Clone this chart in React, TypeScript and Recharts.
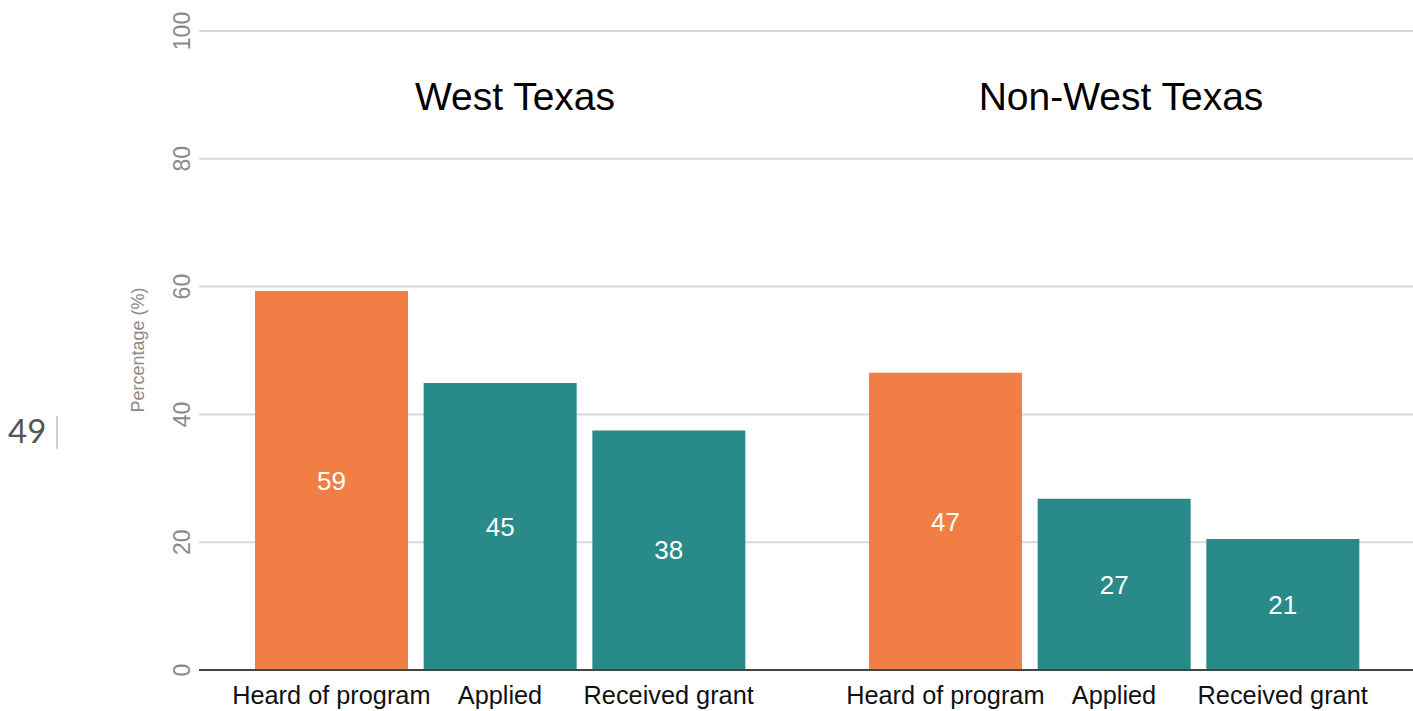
import React from "react";
import { BarChart, Bar, XAxis, YAxis, CartesianGrid, Cell, LabelList } from "recharts";

const groupTitles = ["West Texas", "Non-West Texas"];
const categories = ["Heard of program", "Applied", "Received grant"];
const westValues = [59.3, 44.9, 37.5];
const nonWestValues = [46.5, 26.8, 20.5];
const yTicks = [0, 20, 40, 60, 80, 100];
const barColors = ["#F07E45", "#288B8A", "#288B8A"];
const yAxisTitle = "Percentage (%)";
const pageNumber = "49";

const westData = categories.map((c, i) => ({ category: c, value: westValues[i] }));
const nonWestData = categories.map((c, i) => ({ category: c, value: nonWestValues[i] }));

const FONT = "'Liberation Sans', Arial, sans-serif";

const YTick = (props: any) => {
  const { y, payload } = props;
  const x = 190;
  return (
    <text
      x={x}
      y={y}
      transform={`rotate(-90 ${x} ${y})`}
      textAnchor="middle"
      fill="#8a8a8a"
      fontSize={23}
      fontFamily={FONT}
    >
      {payload.value}
    </text>
  );
};

const XTick = (props: any) => {
  const { x, payload } = props;
  return (
    <text x={x} y={704} textAnchor="middle" fill="#111" fontSize={25.3} fontFamily={FONT}>
      {payload.value}
    </text>
  );
};

const YTitle = (props: any) => {
  const x = 144;
  const y = 350;
  return (
    <text
      x={x}
      y={y}
      transform={`rotate(-90 ${x} ${y})`}
      textAnchor="middle"
      fill="#8a8a8a"
      fontSize={18}
      fontFamily={FONT}
    >
      {yAxisTitle}
    </text>
  );
};

const renderBars = () => (
  <Bar dataKey="value" isAnimationActive={false} barSize={153}>
    {categories.map((c, i) => (
      <Cell key={c} fill={barColors[i]} />
    ))}
    <LabelList
      dataKey="value"
      position="center"
      fill="#ffffff"
      fontSize={26}
      fontFamily={FONT}
      formatter={(v: any) => Math.round(Number(v))}
    />
  </Bar>
);

const titleStyle: React.CSSProperties = {
  position: "absolute",
  top: 96,
  transform: "translate(-50%, -50%)",
  fontSize: 39,
  lineHeight: 1,
  color: "#000",
  whiteSpace: "nowrap",
};

export default function App() {
  return (
    <div
      style={{
        position: "absolute",
        left: 0,
        top: 0,
        width: 1413,
        height: 711,
        background: "#fff",
        fontFamily: FONT,
        overflow: "hidden",
      }}
    >
      <div style={{ position: "absolute", left: 0, top: 0 }}>
        <BarChart width={806} height={711} data={westData} margin={{ top: 31, right: 0, bottom: 0, left: 0 }}>
          <CartesianGrid vertical={false} stroke="#d9d9d9" strokeWidth={2} />
          <YAxis
            width={199}
            domain={[0, 100]}
            ticks={yTicks}
            axisLine={false}
            tickLine={false}
            tick={<YTick />}
            label={<YTitle />}
          />
          <XAxis
            dataKey="category"
            height={41}
            tickLine={false}
            axisLine={{ stroke: "#444", strokeWidth: 2 }}
            padding={{ left: 48, right: 53 }}
            tick={<XTick />}
            interval={0}
          />
          {renderBars()}
        </BarChart>
      </div>
      <div style={{ position: "absolute", left: 806, top: 0 }}>
        <BarChart width={607} height={711} data={nonWestData} margin={{ top: 31, right: 0, bottom: 0, left: 0 }}>
          <CartesianGrid vertical={false} stroke="#d9d9d9" strokeWidth={2} />
          <YAxis hide width={0} domain={[0, 100]} ticks={yTicks} />
          <XAxis
            dataKey="category"
            height={41}
            tickLine={false}
            axisLine={{ stroke: "#444", strokeWidth: 2 }}
            padding={{ left: 55, right: 46 }}
            tick={<XTick />}
            interval={0}
          />
          {renderBars()}
        </BarChart>
      </div>
      <div style={{ ...titleStyle, left: 515 }}>{groupTitles[0]}</div>
      <div style={{ ...titleStyle, left: 1121 }}>{groupTitles[1]}</div>
      <div
        style={{
          position: "absolute",
          left: 8,
          top: 430,
          transform: "translateY(-50%)",
          fontSize: 33,
          lineHeight: 1,
          color: "#555",
          fontFamily: "Lato, 'Liberation Sans', sans-serif",
        }}
      >
        {pageNumber}
      </div>
      <div
        style={{
          position: "absolute",
          left: 56,
          top: 416,
          width: 2,
          height: 33,
          background: "#cfcfcf",
        }}
      />
    </div>
  );
}
